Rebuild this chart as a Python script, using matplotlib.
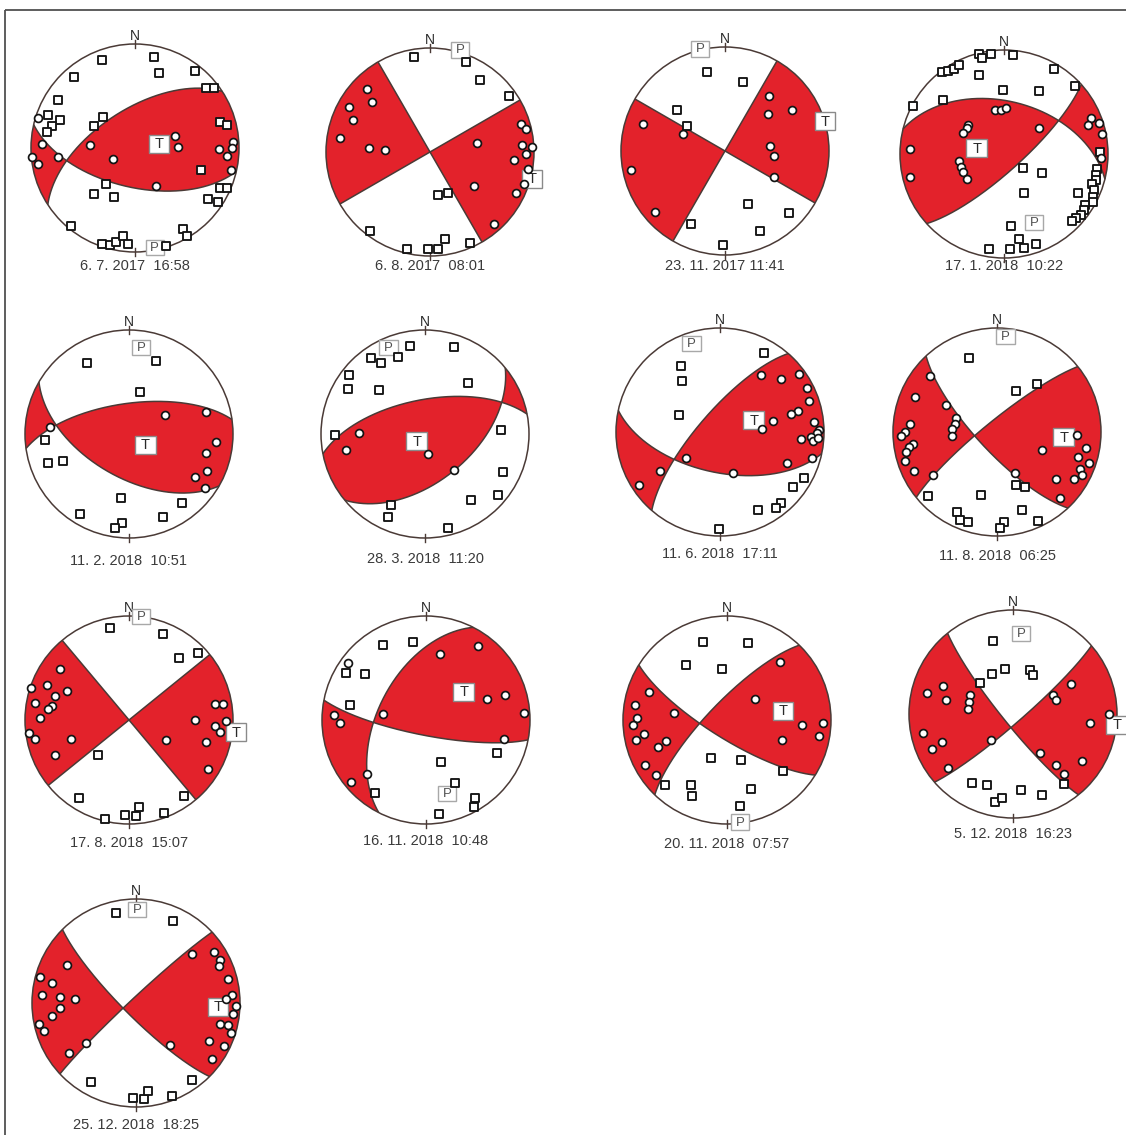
import numpy as np
import matplotlib
matplotlib.use("Agg")
import matplotlib.pyplot as plt
from matplotlib.patches import Circle, Rectangle

plt.rcParams['font.family'] = ['Liberation Sans', 'DejaVu Sans']

# ---------------------------------------------------------------- data
dates = ["6. 7. 2017  16:58", "6. 8. 2017  08:01", "23. 11. 2017 11:41",
         "17. 1. 2018  10:22", "11. 2. 2018  10:51", "28. 3. 2018  11:20",
         "11. 6. 2018  17:11", "11. 8. 2018  06:25", "17. 8. 2018  15:07",
         "16. 11. 2018  10:48", "20. 11. 2018  07:57", "5. 12. 2018  16:23",
         "25. 12. 2018  18:25"]

# nodal planes (right-hand rule strike, dip) in degrees
strike_a = [237, 150, 30, 284, 120, 259, 102, 137, 140, 207, 122, 141, 135]
dip_a = [60, 90, 90, 48, 56, 63, 58, 75, 90, 52, 76, 82, 80]
strike_b = [103, 60, 120, 48, 262, 50.5, 221, 231, 51, 101, 224, 49, 227]
dip_b = [59, 90, 90, 77, 66, 53, 74, 81, 90, 78, 76, 83, 86]

# T and P axis labels, position on the projection (east, north)
t_axis = [(0.23, 0.04), (0.981, -0.256), (0.962, 0.285), (-0.262, 0.054),
          (0.156, -0.105), (-0.080, -0.070), (0.324, 0.113), (0.643, -0.049),
          (1.029, -0.116), (0.362, 0.272), (0.538, 0.090), (0.997, -0.102),
          (0.789, -0.038)]
p_axis = [(0.19, -0.96), (0.291, 0.981), (-0.240, 0.981), (0.288, -0.658),
          (0.118, 0.834), (-0.351, 0.834), (-0.275, 0.848), (0.081, 0.916),
          (0.116, 0.994), (0.202, -0.705), (0.128, -0.981), (0.080, 0.770),
          (0.013, 0.895)]

# station polarities on the lower-hemisphere equal-area projection (east, north)
comp_01 = [(-0.936, 0.292), (-0.891, 0.038), (-0.994, -0.087), (-0.929, -0.151),
           (-0.744, -0.087), (-0.433, 0.026), (-0.208, -0.106), (0.385, 0.119),
           (0.417, 0.006), (0.808, -0.006), (0.946, 0.054), (0.936, -0.003),
           (0.881, -0.074), (0.923, -0.215), (0.199, -0.369)]
dil_01 = [(-0.314, 0.849), (0.186, 0.875), (0.231, 0.721), (0.577, 0.744),
          (-0.590, 0.683), (0.679, 0.577), (0.756, 0.577), (-0.744, 0.465),
          (-0.840, 0.314), (-0.721, 0.266), (-0.801, 0.215), (-0.849, 0.151),
          (-0.304, 0.298), (-0.394, 0.208), (0.817, 0.247), (0.888, 0.224),
          (0.635, -0.215), (-0.279, -0.343), (-0.394, -0.439), (-0.202, -0.471),
          (0.821, -0.385), (0.881, -0.385), (0.705, -0.490), (0.801, -0.519),
          (-0.615, -0.747), (0.465, -0.779), (0.497, -0.849), (-0.314, -0.920),
          (-0.240, -0.936), (-0.183, -0.904), (-0.112, -0.849), (-0.064, -0.923),
          (0.295, -0.939)]

comp_02 = [(-0.604, 0.601), (-0.553, 0.479), (-0.780, 0.431), (-0.744, 0.310),
           (-0.866, 0.137), (-0.585, 0.042), (-0.435, 0.016), (0.450, 0.086),
           (0.875, 0.265), (0.923, 0.224), (0.882, 0.064), (0.978, 0.048),
           (0.923, -0.022), (0.812, -0.080), (0.946, -0.160), (0.907, -0.304),
           (0.827, -0.393), (0.422, -0.329), (0.613, -0.696)]
dil_02 = [(-0.153, 0.917), (0.342, 0.863), (0.476, 0.696), (0.764, 0.534),
          (0.077, -0.415), (0.173, -0.399), (-0.578, -0.760), (0.141, -0.837),
          (-0.217, -0.936), (-0.019, -0.933), (0.077, -0.933), (0.380, -0.879)]

comp_03 = [(0.423, 0.526), (0.641, 0.397), (0.417, 0.359), (-0.792, 0.263),
           (-0.401, 0.167), (0.433, 0.045), (0.471, -0.051), (0.471, -0.250),
           (-0.904, -0.179), (-0.673, -0.587)]
dil_03 = [(-0.170, 0.756), (0.170, 0.663), (-0.458, 0.397), (-0.362, 0.244),
          (0.224, -0.506), (0.615, -0.596), (0.337, -0.772), (-0.330, -0.699),
          (-0.016, -0.901)]

comp_04 = [(-0.083, 0.422), (-0.032, 0.422), (0.019, 0.438), (-0.342, 0.278),
           (-0.358, 0.246), (-0.390, 0.198), (0.339, 0.246), (-0.907, 0.045),
           (-0.907, -0.217), (-0.431, -0.064), (-0.412, -0.121), (-0.390, -0.169),
           (-0.351, -0.240), (0.840, 0.342), (0.808, 0.278), (0.914, 0.300),
           (0.946, 0.192), (0.936, -0.042)]
dil_04 = [(-0.240, 0.958), (-0.125, 0.965), (-0.208, 0.923), (0.089, 0.949),
          (0.479, 0.821), (-0.236, 0.757), (-0.597, 0.789), (-0.540, 0.799),
          (-0.479, 0.821), (-0.435, 0.853), (-0.006, 0.613), (0.332, 0.607),
          (0.687, 0.652), (-0.588, 0.524), (-0.879, 0.460), (0.185, -0.137),
          (0.367, -0.179), (0.195, -0.371), (0.064, -0.690), (0.147, -0.815),
          (-0.141, -0.911), (0.058, -0.911), (0.192, -0.904), (0.307, -0.866),
          (0.927, 0.022), (0.898, -0.147), (0.888, -0.201), (0.882, -0.246),
          (0.847, -0.288), (0.863, -0.345), (0.712, -0.371), (0.856, -0.409),
          (0.856, -0.466), (0.776, -0.489), (0.767, -0.543), (0.744, -0.585),
          (0.696, -0.617), (0.658, -0.649)]

comp_05 = [(-0.758, 0.064), (0.347, 0.182), (0.736, 0.207), (0.841, -0.073),
           (0.736, -0.178), (0.752, -0.354), (0.634, -0.414), (0.729, -0.519)]
dil_05 = [(-0.408, 0.682), (0.255, 0.701), (0.102, 0.404), (-0.812, -0.057),
          (-0.783, -0.280), (-0.634, -0.264), (-0.073, -0.615), (0.510, -0.662),
          (-0.475, -0.768), (0.325, -0.799), (-0.067, -0.854), (-0.137, -0.901)]

comp_06 = [(-0.639, 0.010), (-0.760, -0.150), (0.032, -0.188), (0.278, -0.342)]
dil_06 = [(-0.518, 0.728), (-0.422, 0.681), (-0.256, 0.738), (-0.141, 0.850),
          (0.281, 0.834), (-0.735, 0.569), (-0.741, 0.435), (-0.438, 0.419),
          (0.415, 0.492), (-0.869, -0.013), (0.735, 0.035), (0.751, -0.364),
          (0.703, -0.588), (0.441, -0.636), (-0.326, -0.684), (-0.351, -0.796),
          (0.217, -0.901)]

comp_07 = [(0.398, 0.550), (0.589, 0.511), (0.761, 0.560), (0.835, 0.421),
           (0.851, 0.298), (0.751, 0.204), (0.686, 0.172), (0.511, 0.104),
           (0.405, 0.026), (0.906, 0.097), (0.948, 0.016), (0.932, -0.010),
           (0.874, -0.049), (0.783, -0.071), (0.890, -0.087), (0.945, -0.058),
           (0.641, -0.301), (0.880, -0.249), (0.129, -0.398), (-0.324, -0.252),
           (-0.576, -0.379), (-0.777, -0.508)]
dil_07 = [(0.421, 0.761), (-0.372, 0.638), (-0.366, 0.495), (-0.395, 0.162),
          (0.809, -0.447), (0.706, -0.528), (0.583, -0.686), (0.540, -0.728),
          (0.366, -0.751), (-0.006, -0.929)]

comp_08 = [(-0.649, 0.536), (-0.786, 0.341), (-0.494, 0.260), (-0.396, 0.136),
           (-0.406, 0.081), (-0.429, 0.026), (-0.429, -0.039), (-0.838, 0.081),
           (-0.883, 0.000), (-0.925, -0.042), (-0.805, -0.114), (-0.844, -0.146),
           (-0.877, -0.188), (-0.883, -0.276), (-0.795, -0.373), (-0.617, -0.412),
           (0.429, -0.169), (0.773, -0.026), (0.851, -0.153), (0.779, -0.244),
           (0.883, -0.302), (0.795, -0.351), (0.818, -0.416), (0.740, -0.455),
           (0.568, -0.455), (0.601, -0.633), (0.169, -0.390)]
dil_08 = [(-0.269, 0.714), (0.179, 0.390), (0.383, 0.464), (-0.666, -0.617),
          (-0.156, -0.601), (0.185, -0.513), (0.266, -0.526), (0.244, -0.753),
          (-0.383, -0.773), (-0.357, -0.844), (-0.282, -0.870), (0.390, -0.854),
          (0.071, -0.867), (0.032, -0.919)]

comp_09 = [(-0.659, 0.489), (-0.939, 0.309), (-0.788, 0.334), (-0.595, 0.277),
           (-0.714, 0.228), (-0.907, 0.167), (-0.736, 0.135), (-0.778, 0.109),
           (-0.852, 0.023), (-0.965, -0.122), (-0.907, -0.180), (-0.553, -0.180),
           (-0.714, -0.334), (0.830, 0.158), (0.900, 0.158), (0.630, 0.003),
           (0.932, -0.013), (0.830, -0.058), (0.878, -0.116), (0.354, -0.190),
           (0.740, -0.212), (0.759, -0.469)]
dil_09 = [(-0.183, 0.887), (0.331, 0.823), (0.482, 0.592), (0.659, 0.640),
          (-0.296, -0.341), (-0.482, -0.752), (0.531, -0.727), (-0.232, -0.952),
          (-0.039, -0.910), (0.064, -0.926), (0.100, -0.833), (0.338, -0.894)]

comp_10 = [(-0.753, 0.551), (0.138, 0.631), (0.497, 0.715), (0.587, 0.202),
           (0.763, 0.240), (0.939, 0.071), (0.753, -0.183), (-0.888, 0.048),
           (-0.824, -0.032), (-0.413, 0.054), (-0.567, -0.519), (-0.721, -0.593)]
dil_10 = [(-0.413, 0.721), (-0.125, 0.753), (-0.769, 0.449), (-0.583, 0.439),
          (-0.728, 0.144), (0.683, -0.321), (0.144, -0.407), (0.282, -0.609),
          (-0.494, -0.699), (0.474, -0.747), (0.458, -0.833), (0.128, -0.907)]

comp_11 = [(0.506, 0.558), (-0.747, 0.269), (0.272, 0.202), (-0.881, 0.147),
           (-0.865, 0.019), (-0.904, -0.051), (-0.506, 0.067), (-0.795, -0.135),
           (-0.872, -0.189), (-0.583, -0.205), (-0.667, -0.263), (-0.792, -0.436),
           (-0.679, -0.526), (0.721, -0.045), (0.920, -0.029), (0.881, -0.157),
           (0.529, -0.189)]
dil_11 = [(-0.234, 0.750), (0.202, 0.740), (-0.391, 0.532), (-0.048, 0.494),
          (-0.151, -0.365), (0.138, -0.381), (0.535, -0.487), (-0.593, -0.622),
          (-0.346, -0.622), (-0.337, -0.734), (0.234, -0.660), (0.122, -0.824)]

comp_12 = [(-0.831, 0.204), (-0.671, 0.265), (-0.645, 0.131), (-0.409, 0.179),
           (-0.422, 0.115), (-0.431, 0.051), (-0.863, -0.179), (-0.783, -0.332),
           (-0.681, -0.268), (-0.629, -0.518), (-0.214, -0.252), (0.383, 0.185),
           (0.409, 0.137), (0.559, 0.284), (0.741, -0.083), (0.920, 0.003),
           (0.262, -0.374), (0.415, -0.492), (0.495, -0.578), (0.665, -0.450)]
dil_12 = [(-0.192, 0.706), (-0.080, 0.435), (-0.198, 0.387), (-0.313, 0.300),
          (0.160, 0.419), (0.192, 0.377), (-0.390, -0.668), (-0.249, -0.684),
          (-0.176, -0.843), (-0.102, -0.812), (0.080, -0.732), (0.281, -0.780),
          (0.486, -0.677)]

comp_13 = [(0.543, 0.473), (0.748, 0.489), (0.805, 0.415), (0.799, 0.355),
           (0.885, 0.233), (-0.665, 0.361), (-0.920, 0.249), (-0.808, 0.195),
           (-0.904, 0.073), (-0.728, 0.058), (-0.585, 0.042), (-0.735, -0.045),
           (-0.808, -0.125), (-0.936, -0.198), (-0.882, -0.268), (-0.479, -0.380),
           (-0.649, -0.479), (0.927, 0.073), (0.869, 0.035), (0.958, -0.032),
           (0.933, -0.109), (0.812, -0.198), (0.885, -0.208), (0.917, -0.284),
           (0.703, -0.367), (0.843, -0.415), (0.326, -0.406), (0.735, -0.543)]
dil_13 = [(-0.192, 0.863), (0.358, 0.786), (-0.435, -0.764), (-0.026, -0.917),
          (0.077, -0.923), (0.118, -0.843), (0.342, -0.891), (0.534, -0.741)]

compressions = [comp_01, comp_02, comp_03, comp_04, comp_05, comp_06, comp_07,
                comp_08, comp_09, comp_10, comp_11, comp_12, comp_13]
dilatations = [dil_01, dil_02, dil_03, dil_04, dil_05, dil_06, dil_07,
               dil_08, dil_09, dil_10, dil_11, dil_12, dil_13]

# ---------------------------------------------------------------- layout
W, H = 1126, 1135
R_PX = 104                      # radius of one projection in pixels
LIM = 1.45                      # half-extent of each small axes (in radii)
centers = [(135, 148), (430, 152), (725, 151), (1004, 154),
           (129, 434), (425, 434), (720, 432), (997, 432),
           (129, 720), (426, 720), (727, 720), (1013, 714),
           (136, 1003)]
# baseline of the date caption below each centre, in pixels
date_drop = [122, 118, 119, 116, 131, 129, 126, 128, 127, 125, 128, 124, 126]

RED = '#e3222b'
RIM = '#4a3a36'
EDGE = '#141414'


def plane_vectors(strike, dip):
    s, d = np.radians(strike), np.radians(dip)
    along = np.array([np.sin(s), np.cos(s), 0.0])
    down = np.array([np.cos(d) * np.cos(s), -np.cos(d) * np.sin(s), np.sin(d)])
    return along, down, np.cross(along, down)


def to_sphere(x, y):
    r2 = x * x + y * y
    f = np.sqrt(np.clip(2.0 - r2, 0.0, None))
    return np.stack([x * f, y * f, 1.0 - r2], axis=-1)


def project(v):
    k = np.sqrt(1.0 + v[..., 2])
    return v[..., 0] / k, v[..., 1] / k


fig = plt.figure(figsize=(W / 100, H / 100), dpi=100)
fig.patch.set_facecolor('white')

# frame around the panel
bg = fig.add_axes([0, 0, 1, 1])
bg.set_xlim(0, W)
bg.set_ylim(H, 0)
bg.axis('off')
bg.plot([5, 5], [10, H + 5], color='#505050', lw=1.3, solid_capstyle='butt')
bg.plot([5, W + 5], [10, 10], color='#505050', lw=1.3, solid_capstyle='butt')

g = np.linspace(-1.0, 1.0, 601)
GX, GY = np.meshgrid(g, g)
GV = to_sphere(GX, GY)

half = LIM * R_PX
for k in range(len(dates)):
    cx, cy = centers[k]
    ax = fig.add_axes([(cx - half) / W, 1 - (cy + half) / H, 2 * half / W, 2 * half / H])
    ax.set_xlim(-LIM, LIM)
    ax.set_ylim(-LIM, LIM)
    ax.set_aspect('equal')
    ax.axis('off')

    disk = Circle((0, 0), 1.0, facecolor='white', edgecolor='none', zorder=1)
    ax.add_patch(disk)

    sa, da, na = plane_vectors(strike_a[k], dip_a[k])
    sb, db, nb = plane_vectors(strike_b[k], dip_b[k])
    field = (GV @ na) * (GV @ nb)
    tx, ty = t_axis[k]
    rt = np.hypot(tx, ty)
    if rt > 0.99:
        tx, ty = tx * 0.99 / rt, ty * 0.99 / rt
    vt = to_sphere(np.array(tx), np.array(ty))
    pol = np.sign((vt @ na) * (vt @ nb))
    cs = ax.contourf(GX, GY, pol * field, levels=[0, np.abs(field).max() + 1],
                     colors=[RED], antialiased=True, zorder=2)
    cs.set_clip_path(disk)

    t = np.linspace(0, np.pi, 400)[:, None]
    for along, down in ((sa, da), (sb, db)):
        px, py = project(np.cos(t) * along + np.sin(t) * down)
        ax.plot(px, py, color=RIM, lw=1.1, zorder=3, solid_capstyle='butt')

    ax.add_patch(Circle((0, 0), 1.0, fill=False, edgecolor=RIM, lw=1.1, zorder=4))
    ax.plot([0, 0], [0.965, 1.035], color=RIM, lw=1.0, zorder=4)
    ax.plot([0, 0], [-1.035, -0.965], color=RIM, lw=1.0, zorder=4)

    # axis labels
    bw, bh = 0.20, 0.175
    ax.add_patch(Rectangle((t_axis[k][0] - bw / 2, t_axis[k][1] - bh / 2), bw, bh,
                           facecolor='white', edgecolor='#8a8a8a', lw=1.0, zorder=5))
    ax.text(t_axis[k][0], t_axis[k][1] - 0.005, 'T', ha='center', va='center',
            fontsize=10.5, color='#2a2a2a', zorder=6)
    bw, bh = 0.175, 0.145
    ax.add_patch(Rectangle((p_axis[k][0] - bw / 2, p_axis[k][1] - bh / 2), bw, bh,
                           facecolor='white', edgecolor='#a8a8a8', lw=1.0, zorder=5))
    ax.text(p_axis[k][0], p_axis[k][1] - 0.005, 'P', ha='center', va='center',
            fontsize=9.5, color='#505050', zorder=6)

    # station polarities
    cxs, cys = zip(*compressions[k])
    dxs, dys = zip(*dilatations[k])
    ax.scatter(dxs, dys, s=30, marker='s', facecolor='white', edgecolor=EDGE,
               linewidths=1.35, zorder=7)
    ax.scatter(cxs, cys, s=32, marker='o', facecolor='white', edgecolor=EDGE,
               linewidths=1.25, zorder=8)

    ax.text(0, 1.035, 'N', ha='center', va='baseline', fontsize=10, color='#2a2a2a')
    ax.text(0, -date_drop[k] / R_PX, dates[k], ha='center', va='baseline',
            fontsize=10.5, color='#3a3a3a')

fig.savefig('out.png', dpi=100, facecolor='white')
